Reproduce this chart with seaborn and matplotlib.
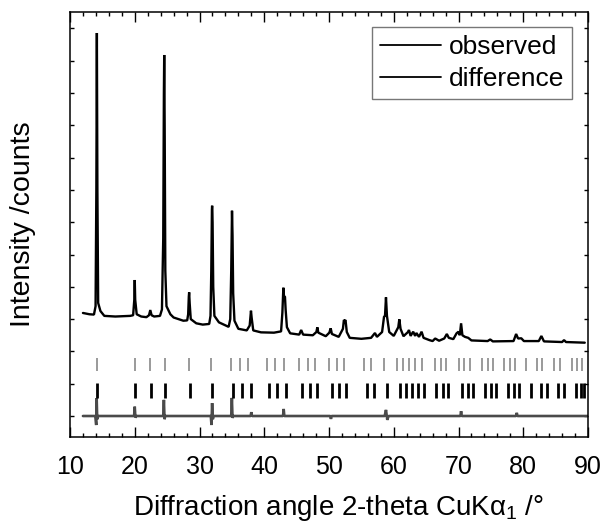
import matplotlib
matplotlib.use("Agg")
import matplotlib.pyplot as plt
import seaborn as sns
import pandas as pd
from matplotlib.ticker import MultipleLocator

# ---------------- data ----------------
obs_2theta = [12.0, 13.0, 13.7, 13.95, 14.07, 14.15, 14.23, 14.35, 14.7, 15.3,
              17.0, 19.3, 19.75, 19.93, 20.0, 20.07, 20.3, 21.0, 21.8, 22.2, 22.4, 22.6,
              23.0, 23.9, 24.2, 24.4, 24.5, 24.55, 24.62, 24.72, 24.9, 25.5, 26.0, 27.5,
              28.1, 28.25, 28.35, 28.4, 28.48, 28.65, 29.5, 30.5, 31.5, 31.7, 31.82, 31.92,
              31.95, 32.02, 32.12, 32.3, 33.0, 34.5, 34.75, 34.9, 35.02, 35.1, 35.2, 35.4,
              36.0, 37.3, 37.75, 37.88, 37.95, 38.05, 38.3, 39.5, 41.5, 42.6, 42.8, 42.95,
              43.05, 43.2, 43.3, 43.5, 44.0, 45.4, 45.7, 46.0, 47.5, 48.05, 48.2, 48.35,
              49.5, 50.05, 50.26, 50.45, 51.5, 52.15, 52.3, 52.45, 52.55, 52.75, 53.2, 55.0,
              56.5, 57.1, 57.4, 58.2, 58.5, 58.65, 58.8, 58.95, 59.3, 60.0, 60.7, 60.86,
              61.05, 61.5, 62.2, 62.35, 62.6, 63.0, 63.3, 63.5, 63.9, 64.3, 64.6, 65.5,
              66.0, 66.4, 67.0, 67.8, 68.2, 68.5, 69.2, 69.7, 70.0, 70.2, 70.4, 70.6, 71.0,
              71.5, 72.0, 74.5, 74.9, 75.3, 78.5, 78.9, 79.2, 79.7, 80.1, 82.4, 82.8, 83.2,
              86.0, 86.3, 86.6, 89.5]
obs_counts = [3190, 3150, 3140, 3400, 7000, 11858, 7000, 3500, 3250, 3100,
              3080, 3100, 3120, 3600, 4211, 3600, 3150, 3080, 3060, 3120, 3280, 3120,
              3080, 3100, 3300, 5500, 10000, 11177, 9000, 4500, 3400, 3150, 3050, 2950,
              2960, 3150, 3700, 3830, 3500, 3000, 2870, 2830, 2850, 3100, 4500, 6400,
              6511, 6000, 4000, 3100, 2900, 2760, 3000, 4500, 6356, 5600, 3800, 2950,
              2700, 2650, 2800, 3100, 3260, 3050, 2650, 2590, 2580, 2620, 3200, 3972,
              3700, 3694, 3300, 2750, 2560, 2520, 2663, 2520, 2500, 2600, 2746, 2580,
              2470, 2580, 2715, 2540, 2450, 2700, 2972, 2950, 2972, 2600, 2420, 2390,
              2420, 2570, 2450, 2600, 3074, 3100, 3675, 3100, 2600, 2480, 2750, 2994,
              2700, 2470, 2600, 2663, 2480, 2610, 2480, 2570, 2450, 2610, 2420, 2350,
              2320, 2400, 2330, 2400, 2539, 2420, 2380, 2560, 2610, 2500, 2870, 2500, 2450,
              2420, 2340, 2320, 2370, 2310, 2320, 2539, 2400, 2406, 2320, 2320, 2477, 2310,
              2290, 2350, 2290, 2270]

diff_2theta = [12.0, 13.9, 14.05, 14.12, 14.2, 14.35, 19.9, 20.0, 20.1, 20.25,
               24.4, 24.5, 24.6, 24.7, 31.75, 31.85, 31.95, 32.05, 32.2, 34.9, 35.0,
               35.1, 35.2, 37.9, 38.0, 38.1, 42.9, 43.0, 43.1, 50.2, 50.3, 50.4, 58.6,
               58.8, 59.0, 59.2, 70.3, 70.4, 70.5, 78.9, 79.0, 79.1, 90.0]
diff_counts = [0, 0, -280, 550, -100, 0, 0, 290, -50, 0,
               0, 500, -100, 0, 0, -280, 400, -100, 0, 0, 560,
               -60, 0, 0, 120, 0, 0, 220, 0, 0, -90, 0, 0,
               190, -120, 0, 0, 150, 0, 0, 100, 0, 0]

refl_phase1 = [14.2, 20.0, 22.4, 24.6, 28.4, 31.8, 34.9, 36.2, 37.5, 40.5, 41.7, 43.0,
               45.4, 46.7, 47.8, 50.0, 51.2, 52.3, 55.4, 56.5, 58.5, 60.5, 61.4, 62.3,
               63.3, 64.3, 66.4, 67.3, 68.1, 70.0, 70.9, 71.8, 73.6, 74.5, 75.3, 77.0,
               77.9, 78.7, 80.5, 82.1, 82.9, 84.8, 85.6, 87.5, 88.3, 89.0]
refl_phase2 = [14.2, 20.1, 22.5, 24.7, 28.5, 32.0, 35.1, 36.6, 38.0, 40.7, 42.0, 43.3,
               45.8, 47.0, 48.2, 50.4, 51.5, 52.6, 55.8, 56.9, 59.0, 61.0, 61.9, 62.8,
               63.7, 64.6, 66.6, 67.6, 68.4, 70.5, 71.4, 72.3, 74.1, 75.0, 75.8, 77.7,
               78.6, 79.4, 81.2, 82.8, 83.6, 85.4, 86.3, 88.1, 88.9, 89.4]

x_ticks = [10, 20, 30, 40, 50, 60, 70, 80, 90]
series_labels = ["observed", "difference"]

# ---------------- drawing ----------------
sns.set_style("ticks")
plt.rcParams['font.family'] = ['Liberation Sans', 'DejaVu Sans']
plt.rcParams['mathtext.fontset'] = 'custom'
plt.rcParams['mathtext.rm'] = 'Liberation Sans'
plt.rcParams['mathtext.it'] = 'Liberation Sans:italic'
plt.rcParams['text.color'] = 'black'
plt.rcParams['axes.labelcolor'] = 'black'
plt.rcParams['xtick.color'] = 'black'
plt.rcParams['ytick.color'] = 'black'

fig = plt.figure(figsize=(6.03, 5.26), dpi=100)
ax = fig.add_axes([70/603, 1-437/526, 518/603, 425/526])

df_obs = pd.DataFrame({"x": obs_2theta, "y": obs_counts})
df_diff = pd.DataFrame({"x": diff_2theta, "y": diff_counts})

sns.lineplot(data=df_obs, x="x", y="y", ax=ax, color="black", lw=1.7,
             label=series_labels[0], estimator=None, sort=False)
sns.lineplot(data=df_diff, x="x", y="y", ax=ax, color="#4a4a4a", lw=1.9,
             label=series_labels[1], estimator=None, sort=False)
for ln in ax.get_lines():
    ln.set_solid_joinstyle("bevel")

ax.vlines(refl_phase1, 1395, 1807, color="#929292", lw=1.3)
ax.vlines(refl_phase2, 567, 1032, color="black", lw=2.0)

ax.set_xlim(10, 90)
ax.set_ylim(-650, 12508)
ax.set_xticks(x_ticks)
ax.xaxis.set_minor_locator(MultipleLocator(2))
ax.yaxis.set_major_locator(MultipleLocator(1000))
ax.set_yticklabels([])
ax.tick_params(axis="both", which="both", direction="in", top=True, right=True, color="black")
ax.tick_params(axis="x", which="major", length=7, width=1.0, labelsize=18, pad=13, labelcolor="black")
ax.tick_params(axis="x", which="minor", length=3, width=1.0)
ax.tick_params(axis="y", which="major", length=3, width=1.0)
for s in ax.spines.values():
    s.set_linewidth(1.1)
    s.set_color("black")

ax.set_xlabel(r"Diffraction angle 2-theta CuK$\mathregular{\alpha_1}$ /°", fontsize=20, color="black")
ax.xaxis.set_label_coords((338-70)/518, -(493-437)/425, transform=ax.transAxes)
ax.xaxis.label.set_va("top")
ax.set_ylabel("Intensity /counts", fontsize=20.5, labelpad=21, color="black")

handles = [plt.Line2D([], [], color="black", lw=1.3) for _ in series_labels]
leg = ax.legend(handles, series_labels, loc="upper right",
                bbox_to_anchor=((572-70)/518, (437-27)/425), borderaxespad=0,
                fontsize=19, fancybox=False, frameon=True, handlelength=2.3,
                handletextpad=0.3, labelspacing=0.3, borderpad=0.3)
leg.get_frame().set_edgecolor("#555555")
leg.get_frame().set_linewidth(1.0)
for t in leg.get_texts():
    t.set_color("black")

fig.savefig("out.png", dpi=100)
